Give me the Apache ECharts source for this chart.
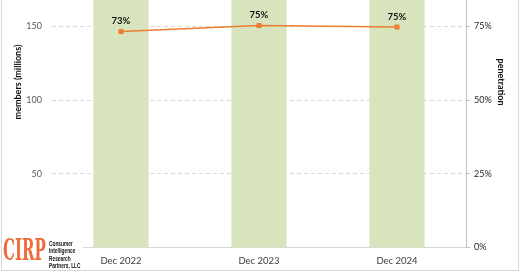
<!DOCTYPE html>
<html>
<head>
<meta charset="utf-8">
<script src="https://cdn.jsdelivr.net/npm/echarts@6/dist/echarts.min.js"></script>
<style>html,body{margin:0;padding:0;background:#fff}#c{width:520px;height:272px}</style>
</head>
<body>
<div id="c"></div>
<script>
var categories = ['Dec 2022', 'Dec 2023', 'Dec 2024'];
var members = [180, 185, 190];          // millions (bar tops are cropped off in the reference)
var penetration = [73.1, 75.1, 74.6];   // percent
var leftTicks = [0, 50, 100, 150, 200];
var rightTicks = [0, 25, 50, 75, 100];

var FONT = 'Lato, "Liberation Sans", sans-serif';
var chart = echarts.init(document.getElementById('c'), null, {renderer: 'canvas'});
chart.setOption({
  animation: false,
  backgroundColor: '#fff',
  grid: {left: 52, right: 54, top: -48, bottom: 24.5, containLabel: false, outerBoundsMode: 'none'},
  xAxis: {
    type: 'category', data: categories,
    axisLine: {lineStyle: {color: '#d9d9d9', width: 1}},
    axisTick: {show: false},
    axisLabel: {color: '#404040', fontSize: 9.5, fontFamily: FONT, margin: 8}
  },
  yAxis: [{
    type: 'value', min: leftTicks[0], max: leftTicks[leftTicks.length - 1], interval: 50,
    axisLine: {show: false}, axisTick: {show: false},
    axisLabel: {color: '#595959', fontSize: 9, fontFamily: FONT, margin: 10},
    splitLine: {lineStyle: {color: '#d9d9d9', type: [4, 3], width: 1}}
  }, {
    type: 'value', min: rightTicks[0], max: rightTicks[rightTicks.length - 1], interval: 25,
    position: 'right',
    axisLine: {show: true, lineStyle: {color: '#bfbfbf', width: 1}},
    axisTick: {show: true, length: 4, lineStyle: {color: '#bfbfbf'}},
    axisLabel: {color: '#262626', fontSize: 9, fontFamily: FONT, margin: 8, formatter: '{value}%'},
    splitLine: {show: false}
  }],
  series: [{
    type: 'bar', data: members, barWidth: '40%', yAxisIndex: 0,
    itemStyle: {color: '#d7e4bd'}, z: 2
  }, {
    type: 'line', data: penetration, yAxisIndex: 1,
    lineStyle: {color: '#ed7d31', width: 1.5},
    itemStyle: {color: '#ed7d31'},
    symbol: 'rect', symbolSize: 5, z: 5,
    label: {show: true, position: 'top', distance: 3, color: '#111', fontWeight: 'bold',
      fontSize: 9.5, fontFamily: FONT,
      formatter: function (p) { return Math.round(p.value) + '%'; }}
  }],
  graphic: [
    {type: 'rect', z: 100, shape: {x: 0, y: 237, width: 83, height: 33}, style: {fill: '#fff'}},
    {type: 'rect', z: 110, shape: {x: 1.5, y: -10, width: 517, height: 280.5}, style: {fill: 'none', stroke: '#d9d9d9', lineWidth: 1}},
    {type: 'text', z: 120, x: 18, y: 82, rotation: Math.PI / 2,
      style: {text: 'members (millions)', fill: '#111', font: 'bold 9px ' + FONT, align: 'center', verticalAlign: 'middle'}},
    {type: 'text', z: 120, x: 501, y: 82, rotation: -Math.PI / 2,
      style: {text: 'penetration', fill: '#111', font: 'bold 9px ' + FONT, align: 'center', verticalAlign: 'middle'}},
    {type: 'text', z: 120, x: 3, y: 252, scaleX: 0.5,
      style: {text: 'CIRP', fill: '#ef6a3a', font: 'bold 30px "DejaVu Serif", serif', align: 'left', verticalAlign: 'middle'}},
    {type: 'text', z: 120, x: 49, y: 243.5, scaleX: 0.6,
      style: {text: 'Consumer', fill: '#111', font: 'bold 8px "Liberation Sans", sans-serif', align: 'left', verticalAlign: 'middle'}},
    {type: 'text', z: 120, x: 49, y: 251, scaleX: 0.6,
      style: {text: 'Intelligence', fill: '#111', font: 'bold 8px "Liberation Sans", sans-serif', align: 'left', verticalAlign: 'middle'}},
    {type: 'text', z: 120, x: 49, y: 258.5, scaleX: 0.6,
      style: {text: 'Research', fill: '#111', font: 'bold 8px "Liberation Sans", sans-serif', align: 'left', verticalAlign: 'middle'}},
    {type: 'text', z: 120, x: 49, y: 266, scaleX: 0.6,
      style: {text: 'Partners, LLC', fill: '#111', font: 'bold 8px "Liberation Sans", sans-serif', align: 'left', verticalAlign: 'middle'}}
  ]
});
</script>
</body>
</html>
